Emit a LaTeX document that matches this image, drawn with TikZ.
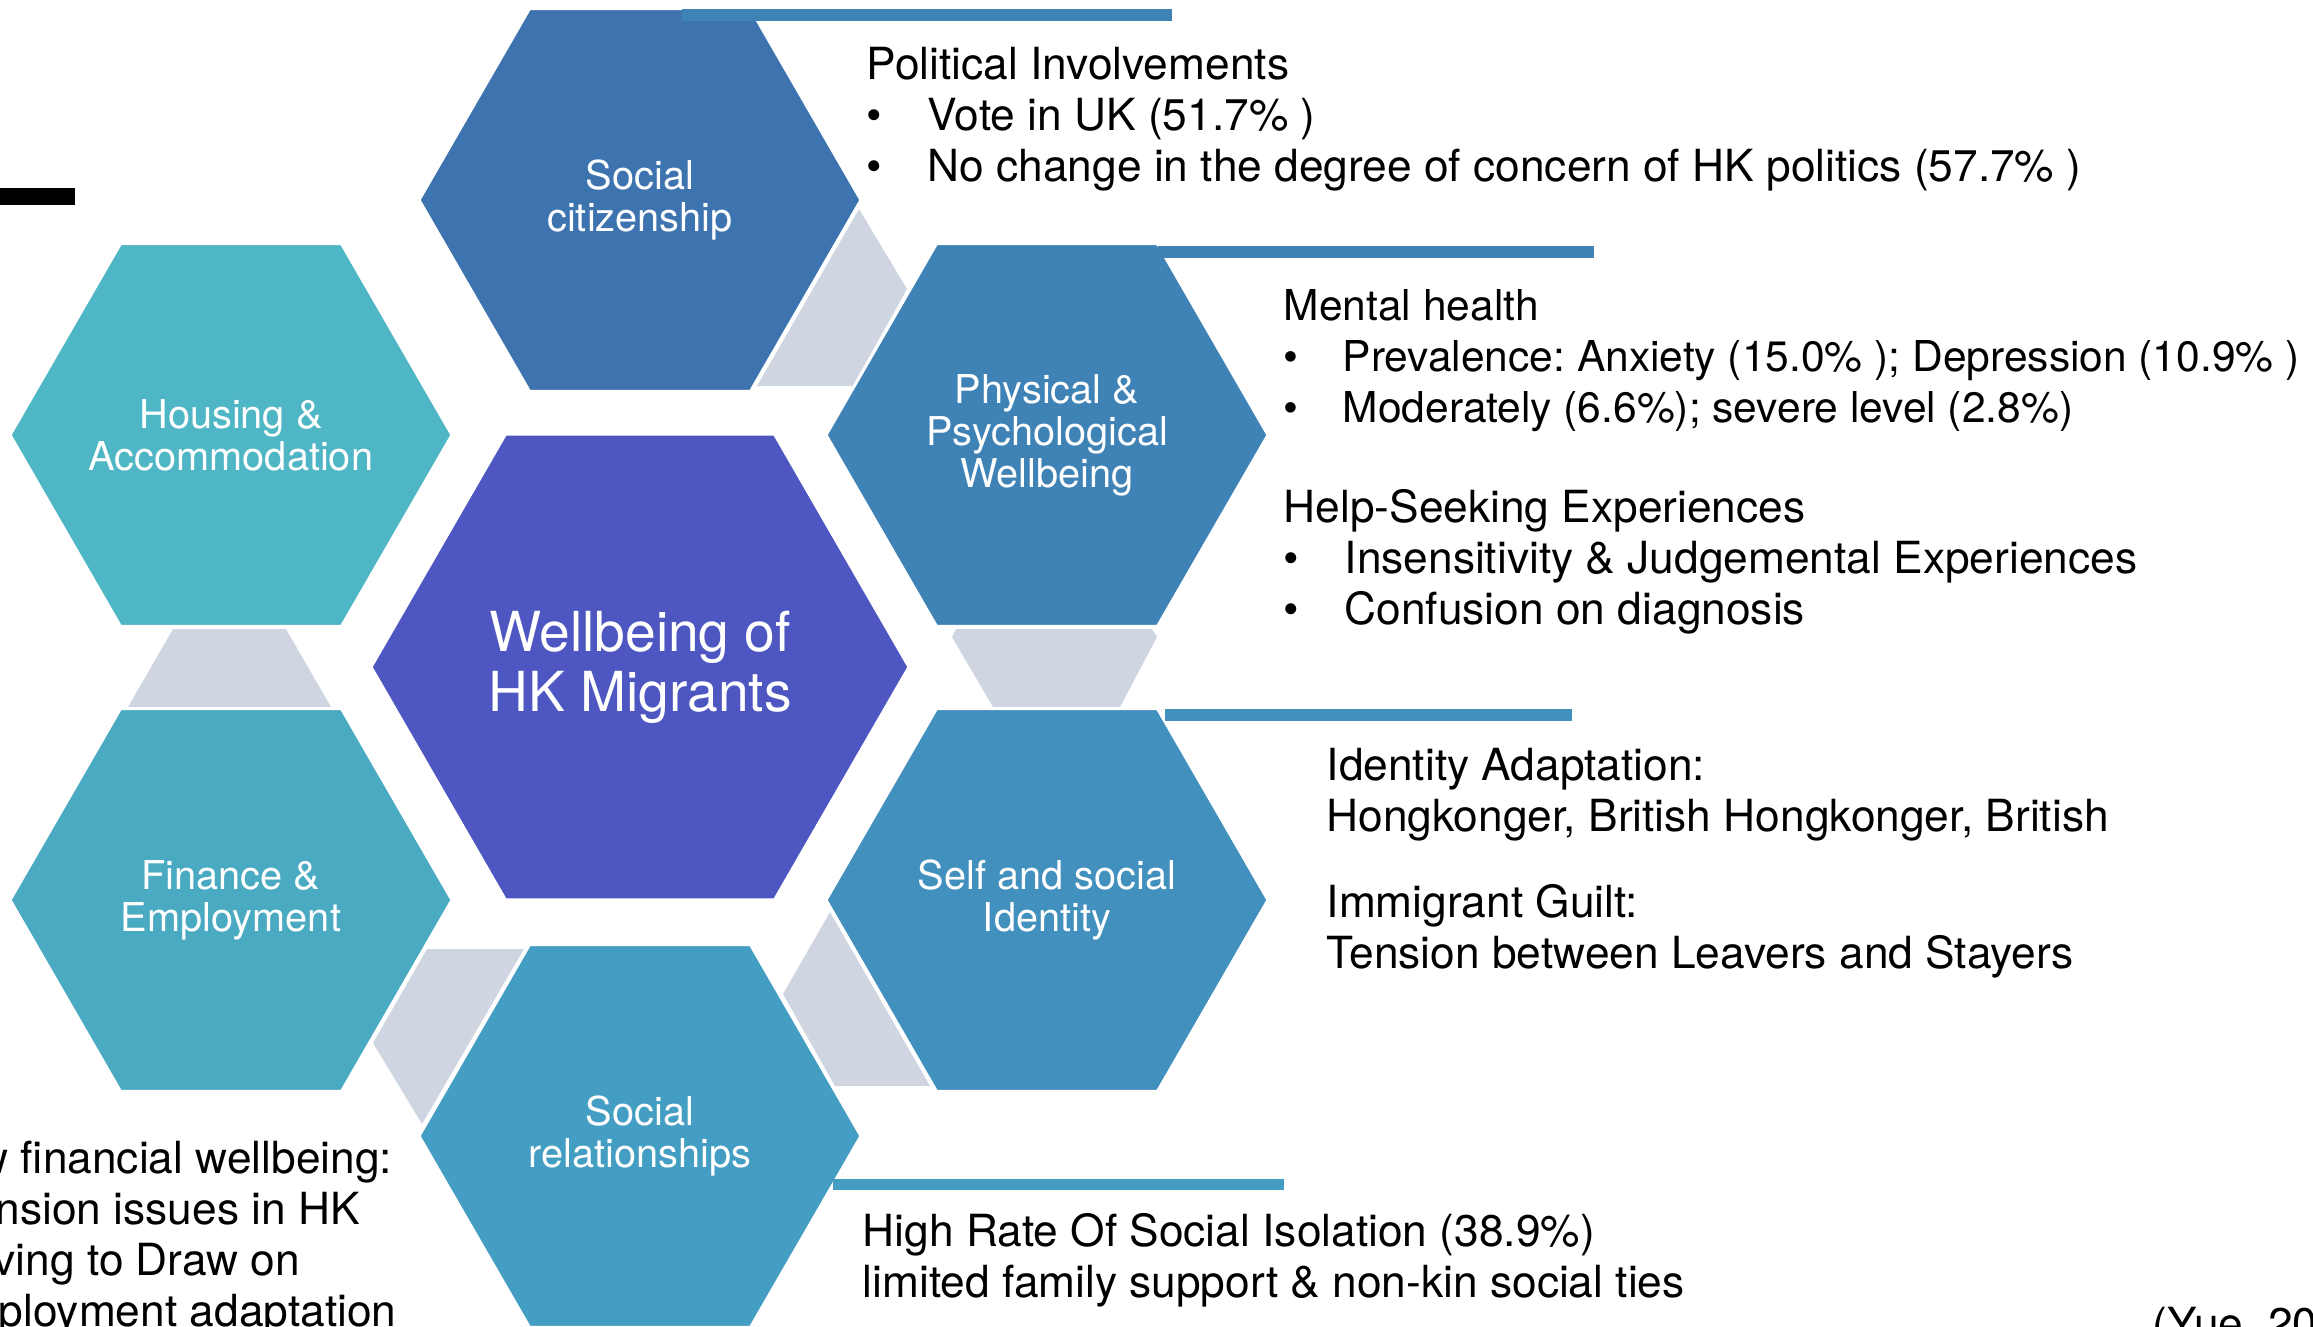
\documentclass[tikz,border=0pt]{standalone}
\usepackage{fontspec}
\setmainfont{TeX Gyre Heros}
\usetikzlibrary{shapes.geometric}
\frenchspacing

\definecolor{citizenblue}{RGB}{61,116,176}
\definecolor{housingteal}{RGB}{78,182,196}
\definecolor{healthblue}{RGB}{62,130,182}
\definecolor{coreviolet}{RGB}{78,87,193}
\definecolor{financeteal}{RGB}{73,170,194}
\definecolor{identityblue}{RGB}{66,144,190}
\definecolor{relationblue}{RGB}{68,158,195}
\definecolor{linkgrey}{RGB}{207,214,226}

\newcommand{\bul}{\makebox[6.1mm][l]{\textbullet}}

\tikzset{
  hexa/.style={regular polygon, regular polygon sides=6, minimum size=44.2mm,
    inner sep=0pt, draw=white, line width=0.3mm},
  bighexa/.style={hexa, minimum size=53.8mm},
  hexlabel/.style={text=white, align=center, inner sep=0pt,
    font=\fontsize{11.3}{11.95}\selectfont},
  biglabel/.style={hexlabel, font=\fontsize{15.7}{17.1}\selectfont},
  note/.style={anchor=base west, align=left, inner sep=0pt,
    font=\fontsize{12.6}{14.5}\selectfont}
}

\begin{document}
\begin{tikzpicture}[x=0.1mm, y=-0.1mm]
  \clip (0,0) rectangle (2313,1326);

  % grey links
  \fill[linkgrey] (859,209) -- (907,289) -- (853,386) -- (757,386) -- cycle;
  \fill[linkgrey] (173,629) -- (286,629) -- (331,707) -- (128,707) -- cycle;
  \fill[linkgrey] (956,629) -- (1152,629) -- (1157,637) -- (1120,707) -- (993,707) -- (952,637) -- cycle;
  \fill[linkgrey] (427,949) -- (524,949) -- (422,1124) -- (373,1043) -- cycle;
  \fill[linkgrey] (830,912) -- (930,1086) -- (835,1086) -- (783,994) -- cycle;

  % hexagons
  \node[hexa, fill=citizenblue] (cit) at (640,200) {};
  \node[hexa, fill=housingteal] (hou) at (231,435) {};
  \node[hexa, fill=healthblue] (hea) at (1047,435) {};
  \node[bighexa, fill=coreviolet] (core) at (640,667) {};
  \node[hexa, fill=financeteal] (fin) at (231,900) {};
  \node[hexa, fill=identityblue] (ide) at (1047,900) {};
  \node[hexa, fill=relationblue] (rel) at (640,1136) {};

  \node[hexlabel] (cit-t) at (cit) {Social\\citizenship};
  \node[hexlabel] (hou-t) at (hou) {Housing \&\\Accommodation};
  \node[hexlabel] (hea-t) at (hea) {Physical \&\\Psychological\\Wellbeing};
  \node[biglabel] (core-t) at (core) {Wellbeing of\\HK Migrants};
  \node[hexlabel] (fin-t) at (fin) {Finance \&\\Employment};
  \node[hexlabel] (ide-t) at (ide) {Self and social\\Identity};
  \node[hexlabel] (rel-t) at (rel) {Social\\relationships};

  % bars
  \fill[healthblue] (682,9) rectangle (1172,20.5);
  \fill[healthblue] (1158,246) rectangle (1594,258);
  \fill[identityblue] (1165,709) rectangle (1572,721);
  \fill[relationblue] (833,1179) rectangle (1284,1190);
  \fill (0,188) rectangle (75,205);

  % texts (base = last line)
  \node[note] (pol) at (866,181) {Political Involvements\\\bul Vote in UK (51.7\% )\\\bul No change in the degree of concern of HK politics (57.7\% )};
  \node[note, font=\fontsize{12.1}{14.5}\selectfont] (men) at (1283,422) {Mental health\\\makebox[5.9mm][l]{\textbullet}Prevalence: Anxiety (15.0\% ); Depression (10.9\% )\\\makebox[5.9mm][l]{\textbullet}Moderately (6.6\%); severe level (2.8\%)};
  \node[note] (hel) at (1283,624) {Help-Seeking Experiences\\\bul Insensitivity \& Judgemental Experiences\\\bul Confusion on diagnosis};
  \node[note] (ada) at (1326,831) {Identity Adaptation:\\Hongkonger, British Hongkonger, British};
  \node[note] (gui) at (1326,968) {Immigrant Guilt:\\Tension between Leavers and Stayers};
  \node[note] (iso) at (862,1297) {High Rate Of Social Isolation (38.9\%)\\limited family support \& non-kin social ties};
  \node[note] (fina) at (0,1326) {\hspace*{-2.4mm}w financial wellbeing:\\\hspace*{-0.5mm}nsion issues in HK\\\hspace*{-0.7mm}ving to Draw on\\\hspace*{-0.2mm}ployment adaptation};
  \node[note] (cite) at (2152,1339) {(Yue, 20};
\end{tikzpicture}
\end{document}
